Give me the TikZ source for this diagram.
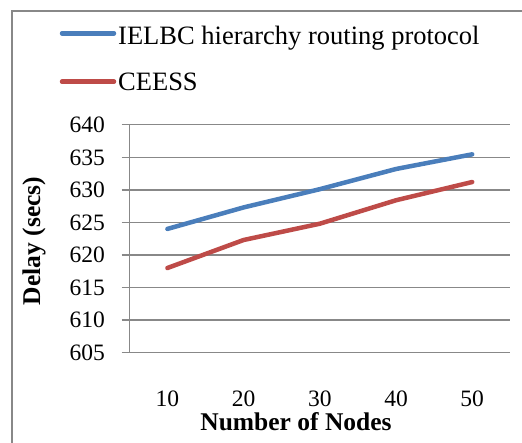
\documentclass[tikz,border=0pt]{standalone}
\usepackage{fontspec}
\setmainfont{Liberation Serif}
\definecolor{serblue}{HTML}{4A7EBB}
\definecolor{serred}{HTML}{BE4B48}
\definecolor{gridgray}{HTML}{888888}
\begin{document}
\begin{tikzpicture}[x=1pt,y=-1pt,
  frame/.style={draw=gridgray,line width=2pt},
  gridline/.style={draw=gridgray,line width=1.5pt},
  series/.style={line width=4.5pt,line cap=round,line join=round},
  ticklab/.style={font=\fontsize{23.5}{24}\selectfont,inner sep=0pt,text depth=0pt},
  leglab/.style={font=\fontsize{26.5}{28}\selectfont,inner sep=0pt,anchor=base west},
  axtitle/.style={font=\fontsize{25.5}{28}\selectfont\bfseries,inner sep=0pt,anchor=base}]
\useasboundingbox (0,0) rectangle (522,443);
% outer frame (left and top edges visible)
\draw[frame] (12,443) -- (12,11) -- (522,11);
% legend
\coordinate (lb1) at (62,33.3);
\coordinate (lb2) at (114,33.3);
\draw[series,serblue] (lb1) -- (lb2);
\node[leglab] (legb) at (118,44.3) {IELBC hierarchy routing protocol};
\coordinate (lr1) at (62,81.7);
\coordinate (lr2) at (114,81.7);
\draw[series,serred] (lr1) -- (lr2);
\node[leglab] (legr) at (118,90.7) {CEESS};
% gridlines, ticks and labels
\foreach \v [count=\k from 0] in {640,635,630,625,620,615,610,605}{
  \coordinate (gl\k) at (121.7,{124.7+\k*32.57});
  \coordinate (gr\k) at (510,{124.7+\k*32.57});
  \draw[gridline] (gl\k) -- (gr\k);
  \node[ticklab,anchor=east] (yl\k) at (105,{124.7+\k*32.57}) {\v};
}
% y axis
\coordinate (ya1) at (129.3,124.7);
\coordinate (ya2) at (129.3,352.7);
\draw[gridline] (ya1) -- (ya2);
% x labels
\foreach \n [count=\i from 0] in {10,20,30,40,50}{
  \node[ticklab,anchor=base] (xl\i) at ({167.4+\i*76.2},406.5) {\n};
}
\node[axtitle] (xt) at (296,430.2) {Number of Nodes};
\node[axtitle,rotate=90] (yt) at (40,241) {Delay (secs)};
% data
\foreach \v [count=\i from 0] in {624.0,627.3,630.1,633.2,635.45}{
  \coordinate (b\i) at ({167.4+\i*76.2},{124.7+(640-\v)*6.514});
}
\foreach \v [count=\i from 0] in {618.0,622.3,624.8,628.4,631.2}{
  \coordinate (r\i) at ({167.4+\i*76.2},{124.7+(640-\v)*6.514});
}
\draw[series,serblue] (b0) -- (b1) -- (b2) -- (b3) -- (b4);
\draw[series,serred] (r0) -- (r1) -- (r2) -- (r3) -- (r4);
\end{tikzpicture}
\end{document}
